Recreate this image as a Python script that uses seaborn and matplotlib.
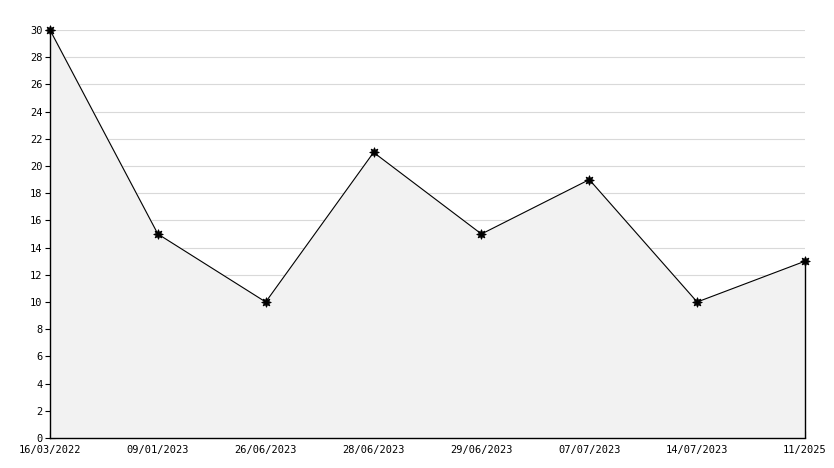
import matplotlib
matplotlib.use("Agg")
import matplotlib.pyplot as plt
import seaborn as sns
import pandas as pd
from matplotlib.ticker import MultipleLocator

# data
dates = ["16/03/2022", "09/01/2023", "26/06/2023", "28/06/2023",
         "29/06/2023", "07/07/2023", "14/07/2023", "11/2025"]
values = [30, 15, 10, 21, 15, 19, 10, 13]

df = pd.DataFrame({"pos": range(len(dates)), "value": values})

sns.set_style("white")
plt.rcParams['font.family'] = ['DejaVu Sans Mono', 'DejaVu Sans']

fig = plt.figure(figsize=(8.34, 4.68), dpi=100)
ax = fig.add_axes([50 / 834, 30 / 468, 755 / 834, 408 / 468])

ax.fill_between(df["pos"], df["value"], 0, color="#f2f2f2", zorder=1)
sns.lineplot(data=df, x="pos", y="value", ax=ax, color="black", linewidth=0.8,
             marker=(8, 1, 0), markersize=7, markeredgewidth=0.6,
             markeredgecolor="black", markerfacecolor="black", zorder=3,
             clip_on=False)
# right edge of the filled area
ax.vlines(df["pos"].iloc[-1], 0, df["value"].iloc[-1], color="black",
          linewidth=1.0, zorder=2, clip_on=False)

ax.set_xlim(0, len(dates) - 1)
ax.set_ylim(0, 30)
ax.set_xticks(df["pos"])
ax.set_xticklabels(dates)
ax.yaxis.set_major_locator(MultipleLocator(2))
ax.yaxis.set_minor_locator(MultipleLocator(1))
ax.grid(axis="y", which="major", color="#d9d9d9", linewidth=0.8, zorder=0)
ax.set_axisbelow(True)

for side in ["top", "right"]:
    ax.spines[side].set_visible(False)
for side in ["left", "bottom"]:
    ax.spines[side].set_color("black")
    ax.spines[side].set_linewidth(1.0)

ax.tick_params(axis="y", which="major", direction="inout", length=7, width=0.8,
               labelsize=7.5, pad=2, colors="black", left=True)
ax.tick_params(axis="y", which="minor", direction="in", length=3.5, width=0.8,
               left=True, color="black")
ax.tick_params(axis="x", which="major", direction="in", length=5, width=0.8,
               labelsize=7.5, pad=5, colors="black", bottom=True)
# the "0" label sits a little higher than the axis, as in the reference
ax.get_yticklabels()[0].set_verticalalignment("bottom")
ax.set_xlabel("")
ax.set_ylabel("")

fig.savefig("out.png", dpi=100)
